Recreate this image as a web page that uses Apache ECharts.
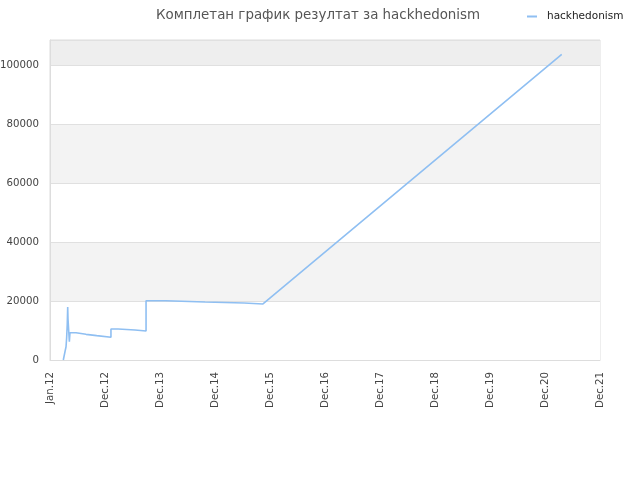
<!DOCTYPE html>
<html>
<head>
<meta charset="utf-8">
<script src="https://cdn.jsdelivr.net/npm/echarts@6/dist/echarts.min.js"></script>
<style>html,body{margin:0;padding:0;background:#fff}#c{width:640px;height:480px}</style>
</head>
<body>
<div id="c"></div>
<script>
var titleText = 'Комплетан график резултат за hackhedonism';
var seriesName = 'hackhedonism';
var axisStart = '2012-01-01';
var axisEnd = '2021-12-15';
var monthNames = ['Jan','Feb','Mar','Apr','May','Jun','Jul','Aug','Sep','Oct','Nov','Dec'];
var dates = [
  '2012-03-29','2012-04-09','2012-04-16','2012-04-20','2012-04-24','2012-04-27','2012-04-29','2012-05-08',
  '2012-05-12','2012-06-21','2012-06-21','2012-08-26','2012-08-26','2012-11-05','2012-11-05','2013-02-07',
  '2013-02-07','2013-03-26','2013-03-26','2013-07-16','2013-07-16','2013-09-27','2013-09-27','2014-02-06',
  '2014-02-06','2014-10-22','2014-10-22','2015-07-07','2015-07-07','2015-11-09','2021-04-06'
];
var scores = [
  0, 2800, 4500, 7500, 12000, 18000, 14000, 6200,
  9250, 9250, 8700, 8700, 8250, 8250, 7700, 7700,
  10500, 10500, 10170, 10170, 9830, 9830, 20100, 20100,
  19660, 19660, 19320, 19320, 19000, 19000, 103600
];

var DAY = 86400000;
var t0 = Date.parse(axisStart + 'T00:00:00Z');
function dayOf(s){ return (Date.parse(s + 'T00:00:00Z') - t0) / DAY; }
var maxDay = dayOf(axisEnd);
var data = dates.map(function(d, i){ return [dayOf(d), scores[i]]; });

var chart = echarts.init(document.getElementById('c'));
chart.setOption({
  animation: false,
  title: {
    text: titleText, left: 151, top: 4,
    textStyle: { fontFamily: 'DejaVu Sans', fontSize: 13.4, fontWeight: 'normal', color: '#555' }
  },
  legend: {
    left: 522, top: 6, itemWidth: 10, itemHeight: 2, itemGap: 5,
    icon: 'rect',
    textStyle: { fontFamily: 'DejaVu Sans', fontSize: 10.5, color: '#222', padding: [0, 0, 0, 5] },
    data: [seriesName]
  },
  grid: { left: 50, right: 40, top: 40, bottom: 120, show: true, borderColor: '#ddd', borderWidth: 1, outerBoundsMode: 'none', containLabel: false },
  xAxis: {
    type: 'value', min: 0, max: maxDay, interval: maxDay / 10,
    axisLine: { show: true, lineStyle: { color: '#ddd' } },
    axisTick: { show: false },
    splitLine: { show: false },
    axisLabel: {
      rotate: 90, fontFamily: 'DejaVu Sans', fontSize: 10.2, color: '#444', margin: 12,
      formatter: function(v){
        var d = new Date(t0 + v * DAY);
        return monthNames[d.getUTCMonth()] + '.' + String(d.getUTCFullYear()).slice(2);
      }
    }
  },
  yAxis: {
    type: 'value', min: 0, max: 108475, interval: 20000,
    axisLine: { show: true, lineStyle: { color: '#ddd' } },
    axisTick: { show: false },
    splitLine: { show: true, lineStyle: { color: '#e0e0e0' } },
    splitArea: { show: true, areaStyle: { color: ['#ffffff', '#f3f3f3', '#ffffff', '#f3f3f3', '#ffffff', '#eeeeee'] } },
    axisLabel: {
      fontFamily: 'DejaVu Sans', fontSize: 10.2, color: '#444', margin: 11,
      showMaxLabel: false,
      formatter: function(v){ return String(v); }
    }
  },
  series: [{
    name: seriesName, type: 'line', data: data, showSymbol: false,
    lineStyle: { color: '#8fbff2', width: 1.6 }, itemStyle: { color: '#8fbff2' }
  }]
});
</script>
</body>
</html>
